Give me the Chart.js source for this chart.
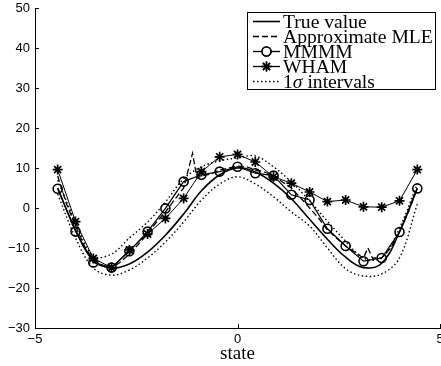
<!DOCTYPE html>
<html>
<head>
<meta charset="utf-8">
<script src="https://cdn.jsdelivr.net/npm/chart.js@4.4.1/dist/chart.umd.min.js"></script>
<style>
  html, body { margin: 0; padding: 0; background: #fff; }
  canvas { display: block; }
</style>
</head>
<body>
<canvas id="c" width="441" height="366"></canvas>
<script>
// Sample states shared by the estimators
const states = [-4.44, -4.0, -3.56, -3.11, -2.67, -2.22, -1.78, -1.33, -0.89, -0.44, 0,
                0.44, 0.89, 1.33, 1.78, 2.22, 2.67, 3.11, 3.56, 4.0, 4.44];

const trueValue = [5, -5.5, -13.2, -15, -14, -11, -6.8, -1.5, 4.3, 8.3, 10,
                   9, 6.2, 2.3, -2.8, -7.8, -12.3, -14.9, -13.8, -6, 5];

const mmmm = [4.8, -5.9, -13.6, -14.9, -10.8, -5.9, -0.1, 6.6, 8.3, 9.1, 10.3,
              8.7, 8.1, 3.3, 2.0, -5.2, -9.5, -13.3, -12.5, -6.0, 4.9];

const wham = [9.6, -3.4, -12.6, -14.9, -10.5, -6.5, -2.6, 2.4, 9.1, 12.8, 13.4,
              11.5, 7.8, 6.2, 4.0, 1.6, 2.0, 0.3, 0.2, 1.8, 9.6];

const sigmaUpper = [7, -3.5, -12, -11.5, -7.5, -3.5, 1.5, 7.3, 10.3, 11.8, 12.5,
                    13, 10.3, 6.5, 1.8, -3.3, -8.3, -12.5, -12.5, -5, 6];

const sigmaLower = [3.5, -7.5, -15, -16.8, -15.5, -12.5, -8.5, -3.5, 2, 6, 7.8,
                    6, 2.8, -1, -4.5, -10, -15.2, -17, -16.5, -12.5, 1];

// The approximate MLE is evaluated on a finer grid
const mleStates = [-4.44, -4.22, -4.0, -3.78, -3.56, -3.33, -3.11, -2.89, -2.67, -2.44,
                   -2.22, -2.0, -1.78, -1.56, -1.33, -1.11, -1.0, -0.89, -0.67, -0.44,
                   -0.22, 0, 0.22, 0.44, 0.67, 0.89, 1.11, 1.33, 1.56, 1.78,
                   2.0, 2.22, 2.44, 2.67, 2.89, 3.11, 3.22, 3.33, 3.56, 3.78,
                   4.0, 4.22, 4.44];
const mleValues = [8, 1, -4.5, -9.5, -13, -14.5, -15, -13.5, -11.5, -9,
                   -6.5, -3.5, -1, 2, 5, 13.7, 7.5, 8, 8.5, 9.5,
                   10, 10.5, 10.3, 9.5, 9, 8, 6.5, 5, 2.5, 0,
                   -2.5, -5.5, -7.5, -9.5, -11, -12.5, -10, -12.5, -12.5, -10,
                   -6, -1, 5];

const xTickValues = [-5, 0, 5];
const yTickValues = [-30, -20, -10, 0, 10, 20, 30, 40, 50];
const legendLabels = ['True value', 'Approximate MLE', 'MMMM', 'WHAM', '1\u03c3 intervals'];

const pairs = (xs, ys) => xs.map((x, i) => ({ x: x, y: ys[i] }));
const fmt = v => (v < 0 ? '\u2212' + Math.abs(v) : String(v));

const INK = '#000';
const SERIF = '"Liberation Serif", "DejaVu Serif", serif';
const SANS = '"Liberation Sans", Arial, sans-serif';

const datasets = [
  { label: legendLabels[4], data: pairs(states, sigmaUpper), borderColor: INK, borderWidth: 1.4,
    borderDash: [1.5, 2.5], pointRadius: 0, tension: 0.35, fill: false },
  { label: '', data: pairs(states, sigmaLower), borderColor: INK, borderWidth: 1.4,
    borderDash: [1.5, 2.5], pointRadius: 0, tension: 0.35, fill: false },
  { label: legendLabels[0], data: pairs(states, trueValue), borderColor: INK, borderWidth: 1.6,
    pointRadius: 0, tension: 0.4, fill: false },
  { label: legendLabels[1], data: pairs(mleStates, mleValues), borderColor: INK, borderWidth: 1.3,
    borderDash: [6, 3], pointRadius: 0, tension: 0, fill: false },
  { label: legendLabels[2], data: pairs(states, mmmm), borderColor: INK, borderWidth: 1.2,
    pointStyle: 'circle', pointRadius: 4.5, pointBorderWidth: 1.6, pointBorderColor: INK,
    pointBackgroundColor: 'rgba(0,0,0,0)', tension: 0, fill: false },
  { label: legendLabels[3], data: pairs(states, wham), borderColor: INK, borderWidth: 1.0,
    pointStyle: 'star', pointRadius: 5, pointBorderWidth: 1.7, pointBorderColor: INK,
    pointBackgroundColor: INK, tension: 0, fill: false }
];

// Inward tick marks on both axes
const innerTicks = {
  id: 'innerTicks',
  afterDraw(chart) {
    const { ctx, chartArea: a, scales } = chart;
    ctx.save();
    ctx.strokeStyle = INK;
    ctx.lineWidth = 1;
    scales.y.ticks.forEach(t => {
      const py = Math.round(scales.y.getPixelForValue(t.value)) + 0.5;
      ctx.beginPath(); ctx.moveTo(a.left, py); ctx.lineTo(a.left + 4, py); ctx.stroke();
    });
    scales.x.ticks.forEach(t => {
      const px = Math.round(scales.x.getPixelForValue(t.value)) + 0.5;
      ctx.beginPath(); ctx.moveTo(px, a.bottom); ctx.lineTo(px, a.bottom - 4); ctx.stroke();
    });
    ctx.restore();
  }
};

// Boxed legend in the upper right corner, each entry drawn from its dataset style
const boxedLegend = {
  id: 'boxedLegend',
  afterDraw(chart) {
    const ctx = chart.ctx;
    const box = { left: 247.5, top: 12.5, right: 435.5, bottom: 89.5 };
    const rowStep = 15;
    const sampleL = 253, sampleR = 280, textX = 283;
    const stretch = 1.09;
    ctx.save();
    ctx.fillStyle = '#fff';
    ctx.fillRect(box.left, box.top, box.right - box.left, box.bottom - box.top);
    ctx.strokeStyle = INK;
    ctx.lineWidth = 1;
    ctx.strokeRect(box.left, box.top, box.right - box.left, box.bottom - box.top);

    const order = [2, 3, 4, 5, 0];
    order.forEach((di, row) => {
      const ds = chart.data.datasets[di];
      const y = box.top + 9 + row * rowStep;
      ctx.save();
      ctx.strokeStyle = INK;
      ctx.lineWidth = Math.max(ds.borderWidth, 1.3);
      ctx.setLineDash(ds.borderDash || []);
      ctx.beginPath(); ctx.moveTo(sampleL, y); ctx.lineTo(sampleR, y); ctx.stroke();
      ctx.setLineDash([]);
      const cx = (sampleL + sampleR) / 2;
      if (ds.pointRadius > 0) {
        ctx.fillStyle = '#fff';
        Chart.helpers.drawPoint(ctx, {
          pointStyle: ds.pointStyle, radius: ds.pointRadius, rotation: 0,
          borderWidth: ds.pointBorderWidth
        }, cx, y);
        if (ds.pointStyle === 'circle') ctx.fill();
        ctx.lineWidth = ds.pointBorderWidth;
        ctx.stroke();
      }
      ctx.restore();

      // label text
      ctx.save();
      ctx.fillStyle = INK;
      ctx.textBaseline = 'alphabetic';
      ctx.translate(textX, y + 6);
      ctx.scale(stretch, 1);
      const label = ds.label;
      if (label.indexOf('\u03c3') >= 0) {
        const parts = label.split('\u03c3');
        ctx.font = '18px ' + SERIF;
        ctx.fillText(parts[0], 0, 0);
        let w = ctx.measureText(parts[0]).width;
        ctx.font = 'italic 18px ' + SERIF;
        ctx.fillText('\u03c3', w, 0);
        w += ctx.measureText('\u03c3').width;
        ctx.font = '18px ' + SERIF;
        ctx.fillText(parts[1], w, 0);
      } else {
        ctx.font = '18px ' + SERIF;
        ctx.fillText(label, 0, 0);
      }
      ctx.restore();
    });
    ctx.restore();
  }
};

new Chart(document.getElementById('c'), {
  type: 'line',
  data: { datasets: datasets },
  options: {
    responsive: false,
    animation: false,
    devicePixelRatio: 1,
    layout: { autoPadding: false, padding: { top: 8, right: 1, bottom: 0, left: 0 } },
    plugins: { legend: { display: false }, tooltip: { enabled: false } },
    scales: {
      x: {
        type: 'linear', min: -5, max: 5,
        afterBuildTicks: s => { s.ticks = xTickValues.map(v => ({ value: v })); },
        afterFit: s => { s.height = 38; s.paddingLeft = 0; s.paddingRight = 0; },
        grid: { display: true, drawOnChartArea: false, drawTicks: false },
        border: { display: true, color: INK, width: 1 },
        ticks: { color: INK, padding: 4, maxRotation: 0, autoSkip: false,
                 font: { family: SANS, size: 13 }, callback: v => fmt(v) },
        title: { display: true, text: 'state', color: INK,
                 font: { family: SERIF, size: 19 }, padding: { top: 0, bottom: 1 } }
      },
      y: {
        type: 'linear', min: -30, max: 50,
        afterBuildTicks: s => { s.ticks = yTickValues.map(v => ({ value: v })); },
        afterFit: s => { s.width = 35; s.paddingTop = 0; s.paddingBottom = 0; },
        grid: { display: true, drawOnChartArea: false, drawTicks: false },
        border: { display: true, color: INK, width: 1 },
        ticks: { color: INK, padding: 5, autoSkip: false,
                 font: { family: SANS, size: 13 }, callback: v => fmt(v) }
      }
    }
  },
  plugins: [innerTicks, boxedLegend]
});
</script>
</body>
</html>
